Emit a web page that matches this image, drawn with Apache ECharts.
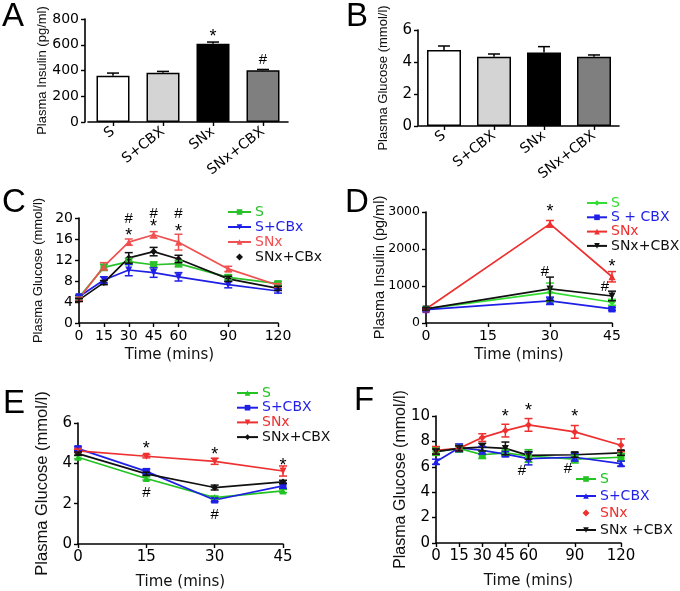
<!DOCTYPE html>
<html><head><meta charset="utf-8">
<script src="https://cdn.jsdelivr.net/npm/echarts@6/dist/echarts.min.js"></script>
<style>html,body{margin:0;padding:0;background:#fff}#c{width:680px;height:591px}</style>
</head><body><div id="c"></div>
<script>
// ---------- DATA ----------
const barCats = ['S', 'S+CBX', 'SNx', 'SNx+CBX'];
const insulinA = [360, 383, 608, 402];
const insulinAErr = [20, 10, 13, 6];
const glucoseB = [4.75, 4.33, 4.6, 4.33];
const glucoseBErr = [0.25, 0.17, 0.36, 0.11];

const timesC = [0, 15, 30, 45, 60, 90, 120];
const cS = [4.9, 10.6, 11.7, 11.1, 11.3, 8.7, 7.5];
const cSErr = [0.3, 0.6, 0.6, 0.5, 0.6, 0.5, 0.4];
const cSCBx = [5.0, 8.2, 10.1, 9.6, 8.8, 7.3, 6.1];
const cSCBxErr = [0.3, 0.6, 1.1, 0.9, 0.8, 0.6, 0.4];
const cSNx = [4.6, 10.8, 15.4, 16.8, 15.4, 10.3, 7.2];
const cSNxErr = [0.3, 0.7, 0.6, 0.6, 1.5, 0.5, 0.3];
const cSNxCBx = [4.4, 7.7, 12.4, 13.6, 12.2, 8.4, 6.6];
const cSNxCBxErr = [0.3, 0.4, 1.0, 0.8, 0.7, 0.5, 0.4];

const timesD = [0, 30, 45];
const dS = [380, 830, 560];
const dSErr = [40, 250, 80];
const dSCBX = [360, 600, 380];
const dSCBXErr = [30, 100, 40];
const dSNx = [380, 2680, 1250];
const dSNxErr = [30, 90, 140];
const dSNxCBX = [380, 920, 730];
const dSNxCBXErr = [30, 320, 130];

const timesE = [0, 15, 30, 45];
const eS = [4.3, 3.25, 2.3, 2.63];
const eSErr = [0.08, 0.08, 0.08, 0.08];
const eSCBX = [4.73, 3.6, 2.18, 2.88];
const eSCBXErr = [0.1, 0.12, 0.08, 0.12];
const eSNx = [4.62, 4.35, 4.1, 3.62];
const eSNxErr = [0.08, 0.08, 0.15, 0.25];
const eSNxCBX = [4.48, 3.48, 2.8, 3.08];
const eSNxCBXErr = [0.08, 0.08, 0.12, 0.08];

const timesF = [0, 15, 30, 45, 60, 90, 120];
const fS = [7.2, 7.45, 6.95, 7.1, 6.85, 6.6, 6.75];
const fSErr = [0.3, 0.3, 0.3, 0.2, 0.5, 0.3, 0.3];
const fSCBX = [6.4, 7.5, 7.3, 7.0, 6.65, 6.75, 6.25];
const fSCBXErr = [0.2, 0.3, 0.3, 0.2, 0.5, 0.3, 0.2];
const fSNx = [7.3, 7.45, 8.3, 8.85, 9.3, 8.75, 7.7];
const fSNxErr = [0.3, 0.2, 0.3, 0.5, 0.5, 0.5, 0.5];
const fSNxCBX = [7.2, 7.45, 7.55, 7.45, 6.9, 6.95, 7.1];
const fSNxCBXErr = [0.2, 0.2, 0.3, 0.5, 0.3, 0.2, 0.2];

const timeTicks120 = [0, 15, 30, 45, 60, 90, 120];

// significance marks [x, y, symbol]
const annA = [[2, 691, '*'], [3, 482, '#']];
const annC = [[30, 19.75, '#'], [30, 17.4, '*'], [45, 20.7, '#'], [45, 19.0, '*'], [60, 20.7, '#'], [60, 18.0, '*']];
const annD = [[30, 3108, '*'], [45, 1622, '*'], [28.8, 1378, '#'], [43.3, 973, '#']];
const annE = [[15, 4.9, '*'], [15, 2.53, '#'], [30, 4.61, '*'], [30, 1.44, '#'], [45, 4.07, '*']];
const annF = [[45, 10.2, '*'], [60, 10.7, '*'], [90, 10.2, '*'], [55.8, 5.67, '#'], [85.6, 5.8, '#']];

// ---------- STYLE ----------
const GREEN = '#22c322', BLUE = '#1f1fe6', RED = '#ee3030', BLACK = '#111111';
const barColors = ['#ffffff', '#d4d4d4', '#000000', '#7f7f7f'];
const TICKFONT = 'DejaVu Sans';
const DIAMOND_ICON = 'path://M0,0M20,7M10,0L13.5,3.5L10,7L6.5,3.5Z';

function yAxisCfg(gi, min, max, interval, name, nameSize, nameGap, tickSize, extra) {
  return Object.assign({
    type: 'value', gridIndex: gi, min, max, interval,
    name, nameLocation: 'middle', nameGap, nameMoveOverlap: false,
    nameTextStyle: { fontFamily: 'Liberation Sans', fontSize: nameSize, color: '#111' },
    axisLine: { show: true, lineStyle: { color: '#000', width: 1.6 } },
    axisTick: { show: true, length: 4, lineStyle: { color: '#000', width: 1.4 } },
    axisLabel: { fontFamily: TICKFONT, fontSize: tickSize, color: '#000', margin: 6, formatter: v => String(v) },
    splitLine: { show: false }
  }, extra || {});
}
function xTimeCfg(gi, max, interval, nameGap, tickSize, custom, extra) {
  const cfg = {
    type: 'value', gridIndex: gi, min: 0, max, interval,
    name: 'Time (mins)', nameLocation: 'middle', nameGap, nameMoveOverlap: false,
    nameTextStyle: { fontFamily: TICKFONT, fontSize: 15, color: '#111' },
    axisLine: { show: true, onZero: false, lineStyle: { color: '#000', width: 1.6 } },
    axisTick: { show: true, length: 4, lineStyle: { color: '#000', width: 1.4 } },
    axisLabel: { fontFamily: TICKFONT, fontSize: tickSize, color: '#000', margin: 6, formatter: v => String(v) },
    splitLine: { show: false }
  };
  if (custom) {
    cfg.axisTick.customValues = custom;
    cfg.axisLabel.customValues = custom;
  }
  return Object.assign(cfg, extra || {});
}
function xCatCfg(gi) {
  return {
    type: 'category', gridIndex: gi, data: barCats,
    axisLine: { show: true, lineStyle: { color: '#000', width: 1.6 } },
    axisTick: { show: true, alignWithLabel: true, length: 4, lineStyle: { color: '#000', width: 1.4 } },
    axisLabel: { fontFamily: TICKFONT, fontSize: 14, color: '#000', rotate: 38, margin: 8, interval: 0 },
    splitLine: { show: false }
  };
}

function lineSeries(gi, id, xs, ys, color, symbol, rot) {
  return {
    type: 'line', name: id, xAxisIndex: gi, yAxisIndex: gi,
    data: xs.map((x, i) => [x, ys[i]]),
    symbol, symbolSize: 7, symbolRotate: rot || 0,
    lineStyle: { color, width: 1.7 }, itemStyle: { color },
    z: 4, animation: false
  };
}
function errSeries(gi, xs, ys, es, color, upperOnly, cap) {
  const w = cap || 4;
  return {
    type: 'custom', xAxisIndex: gi, yAxisIndex: gi, silent: true, z: 5, animation: false,
    data: xs.map((x, i) => [x, upperOnly ? ys[i] : ys[i] - es[i], ys[i] + es[i]]),
    encode: { x: 0, y: [1, 2] },
    renderItem: (p, api) => {
      const a = api.coord([api.value(0), api.value(1)]);
      const b = api.coord([api.value(0), api.value(2)]);
      const st = { stroke: color, lineWidth: 1.5 };
      const ch = [
        { type: 'line', shape: { x1: a[0], y1: a[1], x2: b[0], y2: b[1] }, style: st },
        { type: 'line', shape: { x1: b[0] - w, y1: b[1], x2: b[0] + w, y2: b[1] }, style: st }
      ];
      if (!upperOnly) ch.push({ type: 'line', shape: { x1: a[0] - w, y1: a[1], x2: a[0] + w, y2: a[1] }, style: st });
      return { type: 'group', children: ch };
    }
  };
}
function annSeries(gi, items) {
  return {
    type: 'custom', xAxisIndex: gi, yAxisIndex: gi, silent: true, z: 10, animation: false, clip: false,
    data: items.map(d => [d[0], d[1]]),
    encode: { x: 0, y: 1 },
    renderItem: (p, api) => {
      const c = api.coord([api.value(0), api.value(1)]);
      const t = items[p.dataIndex][2];
      const star = t === '*';
      return {
        type: 'text', x: c[0], y: c[1] + (star ? 4 : 0),
        style: { text: t, fill: '#000', fontFamily: 'Liberation Sans', fontSize: star ? 18 : 15,
                 align: 'center', verticalAlign: 'middle' }
      };
    }
  };
}
function legendCfg(left, top, gap, iw, items, prefix) {
  return {
    orient: 'vertical', left, top, padding: 0, itemGap: gap, itemWidth: iw, itemHeight: 7,
    selectedMode: false,
    data: items.map(it => Object.assign({ name: prefix + it[0], textStyle: { color: it[1] } },
      it[2] ? { icon: it[2], itemStyle: { color: it[1] } } : {})),
    formatter: n => n.slice(prefix.length),
    textStyle: { fontFamily: TICKFONT, fontSize: 14, lineHeight: 14, padding: [0, 0, 0, -1] }
  };
}

const grids = [
  { left: 88, top: 19, width: 200, height: 103 },
  { left: 419, top: 30, width: 200, height: 96 },
  { left: 79, top: 218, width: 199, height: 105 },
  { left: 426, top: 212, width: 186, height: 111 },
  { left: 78, top: 423, width: 205, height: 121 },
  { left: 436, top: 416, width: 185, height: 127 }
].map(g => Object.assign({ outerBoundsMode: 'none', containLabel: false }, g));

const xAxes = [
  xCatCfg(0),
  xCatCfg(1),
  xTimeCfg(2, 120, 15, 25, 14, timeTicks120, { nameTextStyle: { fontFamily: TICKFONT, fontSize: 15, color: '#111', padding: [0, 18, 0, 0] } }),
  xTimeCfg(3, 45, 15, 25, 14),
  xTimeCfg(4, 45, 15, 31, 15),
  xTimeCfg(5, 120, 15, 31, 15, timeTicks120)
];
const yAxes = [
  yAxisCfg(0, 0, 800, 200, 'Plasma Insulin (pg/ml)', 13, 36, 14, { offset: 3 }),
  yAxisCfg(1, 0, 6, 2, 'Plasma Glucose (mmol/l)', 13, 28, 15, { offset: 1 }),
  yAxisCfg(2, 0, 20, 4, 'Plasma Glucose (mmol/l)', 13, 34, 14),
  yAxisCfg(3, 0, 3000, 1000, 'Plasma Insulin (pg/ml)', 14.5, 39, 12.5),
  yAxisCfg(4, 0, 6, 2, 'Plasma Glucose (mmol/l)', 16.5, 27, 15),
  yAxisCfg(5, 0, 10, 2, 'Plasma Glucose (mmol/l)', 16, 27, 15)
];

const barStyle = (vals) => vals.map((v, i) => ({ value: v, itemStyle: { color: barColors[i], borderColor: '#000', borderWidth: 1.5 } }));

const series = [
  { type: 'bar', xAxisIndex: 0, yAxisIndex: 0, barWidth: 33, data: barStyle(insulinA), animation: false, z: 2 },
  errSeries(0, [0, 1, 2, 3], insulinA, insulinAErr, '#000', true, 6),
  annSeries(0, annA),
  { type: 'bar', xAxisIndex: 1, yAxisIndex: 1, barWidth: 34, data: barStyle(glucoseB), animation: false, z: 2 },
  errSeries(1, [0, 1, 2, 3], glucoseB, glucoseBErr, '#000', true, 6),

  // C
  lineSeries(2, 'C_S', timesC, cS, '#2cc12c', 'rect'),
  lineSeries(2, 'C_S+CBx', timesC, cSCBx, BLUE, 'triangle', 180),
  lineSeries(2, 'C_SNx', timesC, cSNx, '#f05050', 'triangle'),
  lineSeries(2, 'C_SNx+CBx', timesC, cSNxCBx, BLACK, 'diamond'),
  errSeries(2, timesC, cS, cSErr, '#2cc12c'),
  errSeries(2, timesC, cSCBx, cSCBxErr, BLUE),
  errSeries(2, timesC, cSNx, cSNxErr, '#f05050'),
  errSeries(2, timesC, cSNxCBx, cSNxCBxErr, BLACK),
  annSeries(2, annC),

  // D
  lineSeries(3, 'D_S', timesD, dS, '#33dd33', 'diamond'),
  lineSeries(3, 'D_S + CBX', timesD, dSCBX, BLUE, 'rect'),
  lineSeries(3, 'D_SNx', timesD, dSNx, RED, 'triangle'),
  lineSeries(3, 'D_SNx+CBX', timesD, dSNxCBX, BLACK, 'triangle', 180),
  errSeries(3, timesD, dS, dSErr, '#33dd33'),
  errSeries(3, timesD, dSCBX, dSCBXErr, BLUE),
  errSeries(3, timesD, dSNx, dSNxErr, RED),
  errSeries(3, timesD, dSNxCBX, dSNxCBXErr, BLACK),
  annSeries(3, annD),

  // E
  lineSeries(4, 'E_S', timesE, eS, GREEN, 'triangle'),
  lineSeries(4, 'E_S+CBX', timesE, eSCBX, BLUE, 'rect'),
  lineSeries(4, 'E_SNx', timesE, eSNx, RED, 'triangle', 180),
  lineSeries(4, 'E_SNx+CBX', timesE, eSNxCBX, BLACK, 'diamond'),
  errSeries(4, timesE, eS, eSErr, GREEN),
  errSeries(4, timesE, eSCBX, eSCBXErr, BLUE),
  errSeries(4, timesE, eSNx, eSNxErr, RED),
  errSeries(4, timesE, eSNxCBX, eSNxCBXErr, BLACK),
  annSeries(4, annE),

  // F
  lineSeries(5, 'F_S', timesF, fS, GREEN, 'rect'),
  lineSeries(5, 'F_S+CBX', timesF, fSCBX, BLUE, 'triangle'),
  lineSeries(5, 'F_SNx', timesF, fSNx, RED, 'diamond'),
  lineSeries(5, 'F_SNx +CBX', timesF, fSNxCBX, BLACK, 'triangle', 180),
  errSeries(5, timesF, fS, fSErr, GREEN),
  errSeries(5, timesF, fSCBX, fSCBXErr, BLUE),
  errSeries(5, timesF, fSNx, fSNxErr, RED),
  errSeries(5, timesF, fSNxCBX, fSNxCBXErr, BLACK),
  annSeries(5, annF)
];

const legends = [
  legendCfg(227, 205, 1, 23, [['S', '#2cc12c'], ['S+CBx', BLUE], ['SNx', '#f05050'], ['SNx+CBx', BLACK, DIAMOND_ICON]], 'C_'),
  legendCfg(586, 196, 0.3, 20, [['S', '#33dd33'], ['S + CBX', BLUE], ['SNx', RED], ['SNx+CBX', BLACK]], 'D_'),
  legendCfg(236, 386, 0.7, 21, [['S', GREEN], ['S+CBX', BLUE], ['SNx', RED], ['SNx+CBX', BLACK]], 'E_'),
  legendCfg(575, 472, 3, 20, [['S', GREEN], ['S+CBX', BLUE], ['SNx', RED, DIAMOND_ICON], ['SNx +CBX', BLACK]], 'F_')
];

const letterStyle = { fontFamily: 'Liberation Sans', fontSize: 33, fontWeight: 'normal', color: '#000' };
const titles = [
  ['A', 2, 0], ['B', 346, 0], ['C', 2, 186], ['D', 345, 186], ['E', 3, 387], ['F', 354, 384]
].map(t => ({ text: t[0], left: t[1], top: t[2], padding: 0, textStyle: letterStyle }));

const chart = echarts.init(document.getElementById('c'), null, { renderer: 'canvas' });
chart.setOption({
  animation: false,
  backgroundColor: '#fff',
  title: titles,
  grid: grids,
  xAxis: xAxes,
  yAxis: yAxes,
  legend: legends,
  series
});
</script>
</body></html>
